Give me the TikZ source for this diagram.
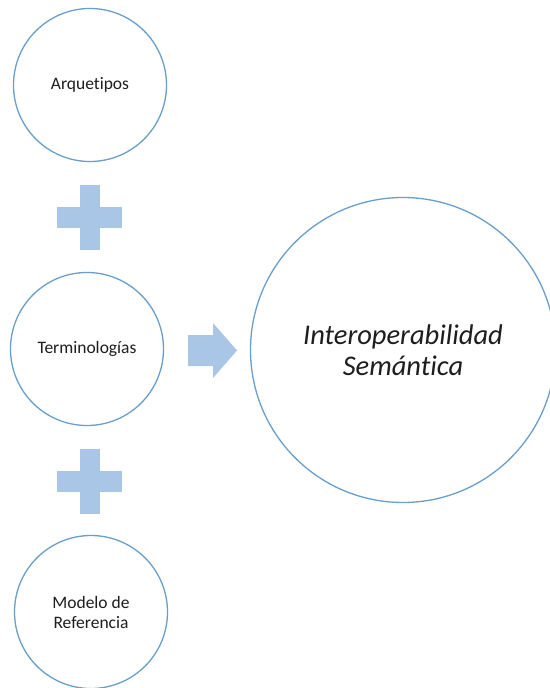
\documentclass[tikz,border=0pt]{standalone}
\usepackage{fontspec}
\setmainfont{Carlito}[Ligatures=NoCommon]
\definecolor{ringblue}{HTML}{6A9FCB}
\definecolor{shapeblue}{HTML}{A9C6E6}
\definecolor{txt}{HTML}{1E1E1E}
\begin{document}
\begin{tikzpicture}[x=1pt,y=-1pt,
  ring/.style={circle,draw=ringblue,line width=1.3pt,fill=white,text=txt,align=center,inner sep=0pt},
  small/.style={ring,minimum size=153pt,font=\fontsize{17.5}{20}\selectfont},
  big/.style={ring,minimum size=305pt,font=\fontsize{28.5}{31}\selectfont\itshape},
  shp/.style={fill=shapeblue,draw=none}]
\useasboundingbox (0,0) rectangle (549,688);
\fill[white] (0,0) rectangle (549,688);
\node[small] (arq) at (90,85) {Arquetipos};
\node[small] (ter) at (87,349) {Terminologías};
\node[small] (mod) at (91,612) {Modelo de\\Referencia};
\node[big] (int) at (403,350) {Interoperabilidad\\Semántica};
% plus signs
\coordinate (p1) at (89.5,217);
\coordinate (p2) at (89.5,481);
\foreach \p in {p1,p2}{
  \fill[shp] ([xshift=-10pt,yshift=32.5pt]\p) rectangle ([xshift=10pt,yshift=-32.5pt]\p);
  \fill[shp] ([xshift=-32.5pt,yshift=10.5pt]\p) rectangle ([xshift=32.5pt,yshift=-10.5pt]\p);
}
% arrow
\coordinate (a) at (188,350.5);
\fill[shp] (a) ++(0,-15.5) -- ++(25,0) -- ++(0,-12) -- ++(24,27.5) -- ++(-24,27.5) -- ++(0,-12) -- ++(-25,0) -- cycle;
\end{tikzpicture}
\end{document}
